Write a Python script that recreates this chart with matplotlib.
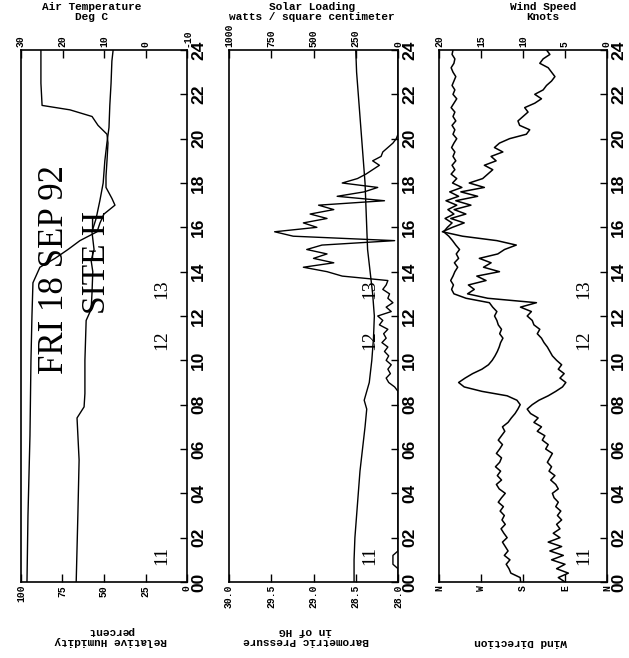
import numpy as np
import matplotlib
matplotlib.use('Agg')
import matplotlib.pyplot as plt

# Left panel: relative humidity (percent) and air temperature (deg C)
hum_hours = [0, 3, 6.6, 10, 12, 13.5, 14.2, 14.6, 15.0, 15.4, 15.8, 16.2, 16.6, 17.0, 17.3,
             17.8, 18.3, 19.0, 19.8, 20.2, 20.6, 21.0, 21.3, 21.5, 22.5, 24]
hum_vals = [96.4, 95.8, 94.6, 94.0, 93.4, 92.8, 88.6, 79.5, 71.7, 64.5, 54.2, 52.4, 50.0,
            43.4, 45.2, 48.8, 48.8, 48.2, 47.6, 48.2, 53.6, 57.2, 70.5, 87.3, 88.0, 88.0]
temp_hours = [0, 3, 5.5, 7.4, 7.9, 8.5, 10, 11.8, 12.3, 13, 14, 14.5, 15, 15.8, 16.4, 17.2,
              18, 19, 19.8, 20.5, 21.5, 22.5, 23.5, 24]
temp_vals = [16.7, 16.3, 16.0, 16.5, 14.8, 14.6, 14.6, 14.3, 13.1, 12.9, 12.7, 13.1, 12.4,
             12.9, 11.9, 11.0, 10.2, 9.8, 9.3, 8.8, 8.6, 8.3, 8.1, 7.8]

# Middle panel: barometric pressure (in of HG) and solar loading
press_hours = [0, 1, 2, 3, 4, 5, 6, 7, 7.8, 8.2, 9, 10, 11, 12, 13, 14, 15, 16, 17, 18, 19,
               20, 21, 22, 23, 24]
press_vals = [28.52, 28.52, 28.51, 28.49, 28.47, 28.45, 28.42, 28.39, 28.37, 28.40, 28.34,
              28.31, 28.29, 28.28, 28.30, 28.33, 28.36, 28.37, 28.38, 28.39, 28.41, 28.43,
              28.45, 28.47, 28.49, 28.50]
solar_day = [0, 20, 55, 70, 45, 60, 40, 70, 55, 80, 60, 95, 70, 85, 60, 110, 90, 120, 40, 70,
             30, 60, 50, 90, 70, 60, 330, 420, 560, 380, 500, 420, 540, 450, 20, 620, 730, 480,
             560, 420, 520, 380, 470, 80, 360, 200, 120, 330, 240, 190, 150, 110, 150, 100, 90,
             60, 30, 10, 0]
solar_night_hours = [0, 0.6, 0.8, 1.2, 1.4]
solar_night_vals = [0, 0, 30, 30, 0]

# Right panel: wind direction (deg) and wind speed (knots), 0.2 h samples
wind_dir = [185, 186, 206, 210, 216, 208, 220, 212, 218, 224, 214, 221, 227, 218, 225, 220,
            229, 222, 233, 226, 218, 231, 237, 226, 235, 228, 239, 230, 226, 237, 230, 224,
            233, 226, 219, 224, 212, 205, 197, 191, 186, 193, 214, 268, 306, 318, 304, 288,
            268, 254, 246, 240, 235, 231, 228, 223, 230, 226, 233, 236, 241, 236, 245, 252,
            302, 328, 333, 329, 335, 330, 326, 320, 327, 318, 323, 316, 324, 331, 339, 350,
            342, 332, 347, 328, 341, 322, 345, 318, 337, 311, 331, 322, 334, 326, 332, 324,
            330, 326, 333, 328, 322, 330, 326, 332, 324, 330, 326, 334, 328, 322, 330, 326,
            332, 328, 324, 330, 334, 328, 326, 332, 330]
wind_spd = [5.0, 5.8, 4.6, 6.0, 5.0, 6.6, 5.2, 6.8, 5.4, 7.0, 5.6, 6.4, 5.6, 6.0, 5.4, 5.9,
            5.5, 6.1, 5.8, 6.3, 6.5, 5.8, 6.1, 6.7, 6.2, 6.9, 6.6, 7.1, 6.8, 6.5, 7.3, 7.0,
            7.7, 7.4, 8.3, 7.8, 8.7, 8.2, 9.1, 9.5, 8.9, 8.1, 7.0, 6.1, 5.3, 4.9, 5.6, 5.1,
            5.8, 5.4, 6.0, 6.5, 6.8, 7.1, 7.5, 7.8, 8.3, 8.0, 8.7, 8.9, 9.5, 9.0, 10.3, 8.4,
            14.2, 16.6, 15.8, 16.5, 14.4, 15.5, 12.8, 14.7, 13.8, 15.2, 13.0, 12.2, 10.8, 13.1,
            17.2, 19.6, 18.4, 17.0, 18.6, 16.8, 18.2, 16.2, 18.0, 15.4, 17.4, 14.6, 16.4, 14.8,
            14.2, 13.6, 14.6, 13.2, 13.8, 12.4, 13.4, 12.8, 11.6, 9.6, 9.2, 10.4, 10.6, 10.0,
            9.4, 9.8, 8.6, 7.8, 8.6, 7.6, 7.2, 6.6, 6.2, 6.6, 7.0, 8.0, 7.6, 6.8, 7.2]

hour_ticks = list(range(0, 25, 2))
hour_labels = ['%02d' % h for h in hour_ticks]

W, H = 629, 658
TOP, BOT = 50, 582   # frame top / bottom in pixels from the top
fig = plt.figure(figsize=(W / 100, H / 100), dpi=100)
fig.patch.set_facecolor('white')

tick_font = dict(family='Liberation Mono', weight='bold', size=7)
hour_font = dict(family='Liberation Sans', weight='bold', size=12.5)
note_font = dict(family='Liberation Serif', size=14)


def make_panel(x0, x1):
    ax = fig.add_axes([x0 / W, (H - BOT) / H, (x1 - x0) / W, (BOT - TOP) / H])
    ax.set_ylim(0, 24)
    ax.yaxis.tick_right()
    ax.set_yticks(hour_ticks)
    ax.set_yticklabels(hour_labels, rotation=90, va='center', **hour_font)
    ax.tick_params(axis='y', direction='in', length=5, width=1, pad=3)
    ax.tick_params(axis='x', direction='in', length=6, width=1, pad=2)
    for s in ax.spines.values():
        s.set_linewidth(1.2)
    top = ax.twiny()
    top.tick_params(axis='x', direction='in', length=6, width=1, pad=2)
    for s in top.spines.values():
        s.set_visible(False)
    return ax, top


def bottom_ticks(ax, lim, ticks, labels):
    ax.set_xlim(*lim)
    ax.set_xticks(ticks)
    ax.set_xticklabels(labels, rotation=90, va='top', **tick_font)


def top_ticks(ax, lim, ticks, labels):
    ax.set_xlim(*lim)
    ax.set_xticks(ticks)
    ax.set_xticklabels(labels, rotation=90, va='bottom', **tick_font)


def notes(ax, xfrac):
    tr = ax.get_yaxis_transform()
    ax.text(xfrac, 1.2, '11', rotation=90, ha='center', va='center', transform=tr, **note_font)
    ax.text(xfrac, 10.9, '12', rotation=90, ha='center', va='center', transform=tr, **note_font)
    ax.text(xfrac, 13.2, '13', rotation=90, ha='center', va='center', transform=tr, **note_font)


# ---- left panel
ax1, ax1t = make_panel(21, 187)
bottom_ticks(ax1, (100, 0), [100, 75, 50, 25, 0], ['100', '75', '50', '25', '0'])
top_ticks(ax1t, (30, -10), [30, 20, 10, 0, -10], ['30', '20', '10', '0', '-10'])
ax1.plot(hum_vals, hum_hours, color='black', lw=1.0)
ax1t.plot(temp_vals, temp_hours, color='black', lw=1.0)
notes(ax1, 0.85)

# ---- middle panel
ax2, ax2t = make_panel(229, 398)
bottom_ticks(ax2, (30.0, 28.0), [30.0, 29.5, 29.0, 28.5, 28.0],
             ['30.0', '29.5', '29.0', '28.5', '28.0'])
top_ticks(ax2t, (1000, 0), [1000, 750, 500, 250, 0], ['1000', '750', '500', '250', '0'])
ax2.plot(press_vals, press_hours, color='black', lw=1.0)
solar_hours = list(np.linspace(8.6, 20.2, len(solar_day)))
ax2t.plot(solar_night_vals + [0] + solar_day + [0],
          solar_night_hours + [8.4] + solar_hours + [24], color='black', lw=1.0)
notes(ax2, 0.83)

# ---- right panel
ax3, ax3t = make_panel(439, 607)
bottom_ticks(ax3, (360, 0), [360, 270, 180, 90, 0], ['N', 'W', 'S', 'E', 'N'])
top_ticks(ax3t, (20, 0), [20, 15, 10, 5, 0], ['20', '15', '10', '5', '0'])
wind_hours = np.linspace(0, 24, len(wind_dir))
ax3.plot(wind_dir, wind_hours, color='black', lw=1.1)
ax3t.plot(wind_spd, wind_hours, color='black', lw=1.1)
notes(ax3, 0.86)

# ---- axis titles (top) and rotated axis names (bottom)
title_font = dict(family='Liberation Mono', weight='bold', size=8, ha='center', va='center',
                  linespacing=0.95)
fig.text(92 / W, 1 - 12 / H, 'Air Temperature\nDeg C', **title_font)
fig.text(312 / W, 1 - 12 / H, 'Solar Loading\nwatts / square centimeter', **title_font)
fig.text(543 / W, 1 - 12 / H, 'Wind Speed\nKnots', **title_font)
fig.text(111 / W, 1 - 636 / H, 'Relative Humidity\npercent', rotation=180, **title_font)
fig.text(306 / W, 1 - 636 / H, 'Barometric Pressure\nin of HG', rotation=180, **title_font)
fig.text(521 / W, 1 - 642 / H, 'Wind Direction', rotation=180, **title_font)

# ---- date and site stamp
fig.text(55 / W, 1 - 270 / H, 'FRI 18 SEP 92', rotation=90, ha='center', va='center',
         family='Liberation Serif', size=25)
fig.text(97 / W, 1 - 262 / H, 'SITE H', rotation=90, ha='center', va='center',
         family='Liberation Serif', size=24)

fig.savefig('out.png', dpi=100, facecolor='white')
